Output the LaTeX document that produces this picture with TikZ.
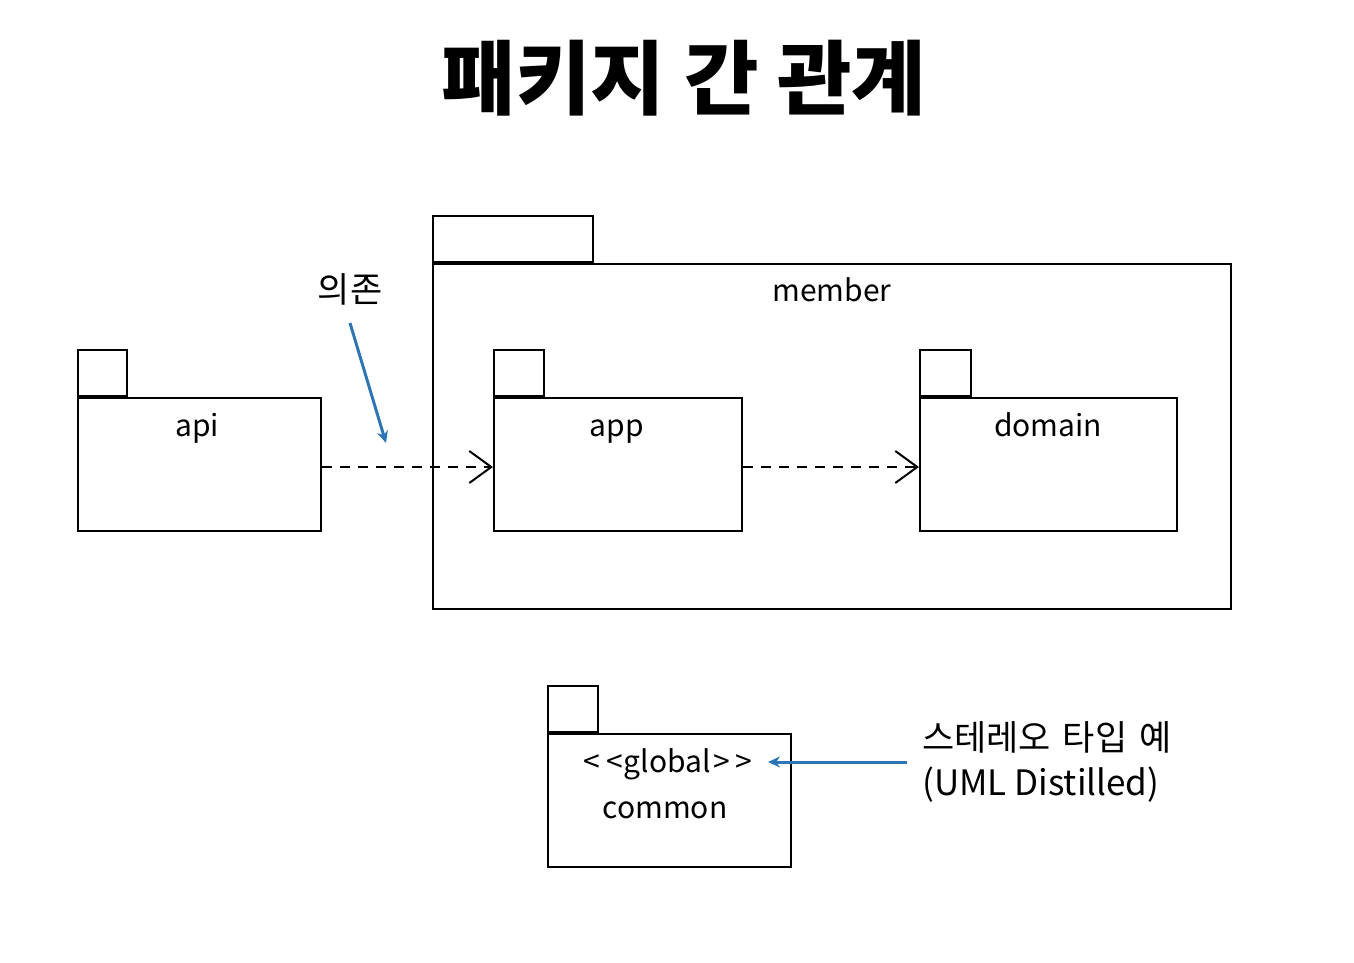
\documentclass[tikz,border=0pt]{standalone}
\usepackage{fontspec}
\setmainfont{Noto Sans CJK KR}
\usetikzlibrary{arrows.meta}
\definecolor{blu}{RGB}{46,117,182}
\tikzset{
  pkgbody/.style={draw, line width=2pt, inner sep=0pt, anchor=north west},
  pkgtab/.style={draw, line width=2pt, inner sep=0pt, anchor=south west},
  lbl/.style={font=\fontsize{30}{32}\selectfont, inner sep=0pt, anchor=base},
  dep/.style={line width=2pt, dash pattern=on 10pt off 8pt, -{Straight Barb[length=22pt,width=32pt,line width=2pt]}},
  note/.style={blu, line width=3pt, -{Stealth[length=12pt,width=11pt]}},
  notetxt/.style={font=\fontsize{35}{44}\selectfont, inner sep=0pt},
}
\begin{document}
\begin{tikzpicture}[x=1pt,y=-1pt]
\useasboundingbox (0,0) rectangle (1354,962);
% title
\node[font=\fontsize{81}{84}\selectfont\bfseries, inner sep=0pt] (title) at (684,78) {패키지 간 관계};
% member
\node[pkgbody, minimum width=798pt, minimum height=345pt] (member) at (432,263) {};
\node[pkgtab, minimum width=160pt, minimum height=46pt] (membertab) at (member.north west) {};
\node[lbl] (memberlbl) at (832,301) {member};
% api
\node[pkgbody, minimum width=243pt, minimum height=133pt] (api) at (77,397) {};
\node[pkgtab, minimum width=49pt, minimum height=46pt] (apitab) at (api.north west) {};
\node[lbl] (apilbl) at (197,436) {api};
% app
\node[pkgbody, minimum width=248pt, minimum height=133pt] (app) at (493,397) {};
\node[pkgtab, minimum width=50pt, minimum height=46pt] (apptab) at (app.north west) {};
\node[lbl] (applbl) at (617,436) {app};
% domain
\node[pkgbody, minimum width=257pt, minimum height=133pt] (domain) at (919,397) {};
\node[pkgtab, minimum width=51pt, minimum height=46pt] (domaintab) at (domain.north west) {};
\node[lbl] (domainlbl) at (1048,436) {domain};
% common
\node[pkgbody, minimum width=243pt, minimum height=133pt] (common) at (547,733) {};
\node[pkgtab, minimum width=50pt, minimum height=46pt] (commontab) at (common.north west) {};
\node[lbl] (globallbl) at (668,772) {<\kern6pt<\kern1pt global\kern2pt>\kern6pt>};
\node[lbl] (commonlbl) at (665,818) {common};
% dependencies
\draw[dep] (api.east |- 0,467) -- (app.west |- 0,467);
\draw[dep] (app.east |- 0,467) -- (domain.west |- 0,467);
% notes
\node[notetxt, anchor=base] (dep) at (350,302) {의존};
\coordinate (depend) at (386,443);
\draw[note] (350,323) -- (depend);
\node[notetxt, anchor=base west] (stereo) at (922,750) {스테레오\hspace{4pt} 타입\hspace{4pt} 예};
\node[notetxt, anchor=base west] (uml) at (922,795) {(UML Distilled)};
\coordinate (notestart) at (907,762);
\coordinate (noteend) at (768,762);
\draw[note] (notestart) -- (noteend);
\end{tikzpicture}
\end{document}
